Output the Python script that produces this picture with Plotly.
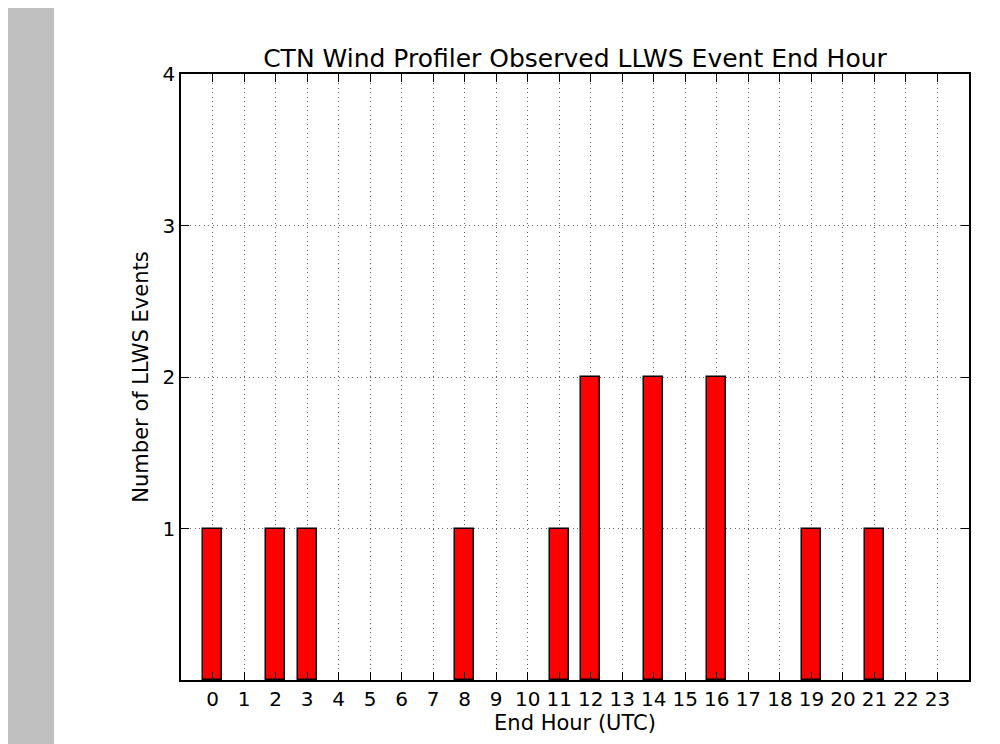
import plotly.graph_objects as go

hours = list(range(24))
counts = [1, 0, 1, 1, 0, 0, 0, 0, 1, 0, 0, 1, 2, 0, 2, 0, 2, 0, 0, 1, 0, 1, 0, 0]
x_ticks = list(range(24))
y_ticks = [1, 2, 3, 4]

title = "CTN Wind Profiler Observed LLWS Event End Hour"
xlabel = "End Hour (UTC)"
ylabel = "Number of LLWS Events"

font = "DejaVu Sans, Liberation Sans, sans-serif"

bar_x = [h for h, c in zip(hours, counts) if c > 0]
bar_y = [c for c in counts if c > 0]

fig = go.Figure()
fig.add_trace(go.Bar(
    x=bar_x, y=bar_y, width=0.6,
    marker=dict(color="#ff0000", line=dict(color="black", width=1.5)),
    showlegend=False,
))

# page has an 8px body margin; figure coordinates = page - 8
OFF = 8
W, H = 1000 - OFF, 744 - OFF
L, T = 181 - OFF, 74 - OFF
R = W - (969 - OFF)
B = H - (680 - OFF)
pw = W - L - R
ph = H - T - B

fig.add_shape(type="rect", xref="paper", yref="paper",
              x0=(0 - L) / pw, x1=(54 - OFF - L) / pw,
              y0=(T + ph - H) / ph, y1=(T + ph) / ph,
              fillcolor="#c0c0c0", line=dict(width=0), layer="below")

grid_dash = "1px,3.5px"
fig.update_layout(
    width=W, height=H,
    margin=dict(l=L, r=R, t=T, b=B, autoexpand=False),
    paper_bgcolor="white", plot_bgcolor="white",
    font=dict(family=font, color="black", size=20),
    title=dict(text=title, x=(L + pw / 2) / W, xanchor="center",
               y=1 - (58 - OFF) / H, yanchor="middle",
               font=dict(size=25)),
    bargap=0,
)
fig.update_xaxes(
    range=[-1, 24], tickvals=x_ticks, ticktext=[str(v) for v in x_ticks],
    ticks="inside", ticklen=8, tickcolor="black", tickwidth=1,
    showline=True, linecolor="black", linewidth=1.5, mirror="ticks",
    showgrid=True, gridcolor="#666666", griddash=grid_dash, gridwidth=1,
    zeroline=False,
    title=dict(text=xlabel, font=dict(size=21), standoff=2),
    tickfont=dict(size=20),
)
fig.update_yaxes(
    range=[0, 4], tickvals=y_ticks, ticktext=[str(v) for v in y_ticks],
    ticks="inside", ticklen=8, tickcolor="black", tickwidth=1,
    showline=True, linecolor="black", linewidth=1.5, mirror="ticks",
    showgrid=True, gridcolor="#666666", griddash=grid_dash, gridwidth=1,
    zeroline=False,
    title=dict(text=ylabel, font=dict(size=21), standoff=8),
    tickfont=dict(size=20),
)

fig.write_html("out.html")
